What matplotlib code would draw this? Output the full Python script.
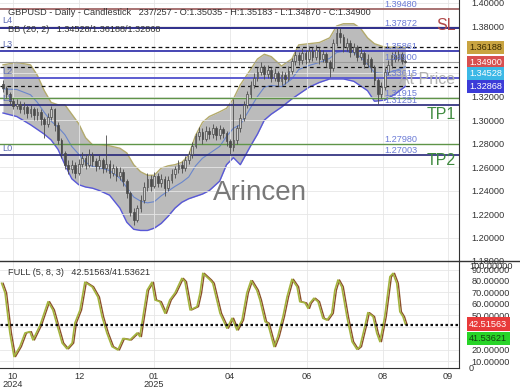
import numpy as np
import pandas as pd
import matplotlib
matplotlib.use("Agg")
import matplotlib.pyplot as plt
from matplotlib.lines import Line2D
from matplotlib.ticker import FormatStrFormatter
from matplotlib.transforms import blended_transform_factory

plt.rcParams['font.family'] = ['Liberation Sans', 'DejaVu Sans']

# candles (one bar every 2 sessions)
closes = [1.327, 1.322, 1.316, 1.312, 1.314, 1.309, 1.311, 1.306, 1.309, 1.304,
          1.307, 1.301, 1.297, 1.303, 1.309, 1.296, 1.283, 1.272, 1.262, 1.258,
          1.262, 1.255, 1.263, 1.268, 1.262, 1.270, 1.265, 1.261, 1.266, 1.259,
          1.263, 1.255, 1.259, 1.252, 1.256, 1.248, 1.238, 1.222, 1.215, 1.225,
          1.232, 1.243, 1.250, 1.244, 1.252, 1.246, 1.250, 1.242, 1.249, 1.254,
          1.258, 1.262, 1.259, 1.266, 1.271, 1.278, 1.286, 1.290, 1.284, 1.291,
          1.288, 1.293, 1.287, 1.292, 1.289, 1.282, 1.277, 1.283, 1.293, 1.302,
          1.313, 1.322, 1.330, 1.336, 1.341, 1.345, 1.339, 1.343, 1.336, 1.340,
          1.333, 1.338, 1.335, 1.342, 1.350, 1.355, 1.351, 1.357, 1.352, 1.359,
          1.354, 1.360, 1.352, 1.356, 1.349, 1.344, 1.366, 1.374, 1.371, 1.362,
          1.366, 1.358, 1.362, 1.354, 1.357, 1.348, 1.352, 1.345, 1.334, 1.322,
          1.328, 1.341, 1.347, 1.355, 1.352, 1.356, 1.35035, 1.34900]
highs = [1.334, 1.329, 1.324, 1.319, 1.318, 1.316, 1.315, 1.313, 1.313, 1.311,
         1.310, 1.309, 1.303, 1.306, 1.312, 1.310, 1.298, 1.285, 1.274, 1.266,
         1.266, 1.264, 1.267, 1.273, 1.271, 1.275, 1.273, 1.268, 1.270, 1.268,
         1.287, 1.266, 1.263, 1.261, 1.260, 1.258, 1.250, 1.240, 1.225, 1.228,
         1.236, 1.247, 1.255, 1.253, 1.256, 1.255, 1.254, 1.252, 1.252, 1.258,
         1.261, 1.266, 1.265, 1.269, 1.274, 1.281, 1.289, 1.294, 1.293, 1.295,
         1.294, 1.297, 1.295, 1.296, 1.294, 1.291, 1.284, 1.318, 1.296, 1.305,
         1.316, 1.325, 1.333, 1.340, 1.345, 1.349, 1.347, 1.347, 1.345, 1.344,
         1.342, 1.342, 1.341, 1.346, 1.353, 1.359, 1.358, 1.361, 1.360, 1.363,
         1.362, 1.364, 1.362, 1.360, 1.358, 1.351, 1.369, 1.379, 1.378, 1.373,
         1.370, 1.368, 1.366, 1.364, 1.361, 1.359, 1.356, 1.354, 1.347, 1.336,
         1.332, 1.344, 1.351, 1.358, 1.359, 1.360, 1.358, 1.35183]
lows = [1.324, 1.319, 1.313, 1.309, 1.309, 1.306, 1.305, 1.302, 1.303, 1.300,
        1.300, 1.296, 1.285, 1.294, 1.300, 1.291, 1.280, 1.268, 1.258, 1.254,
        1.255, 1.251, 1.253, 1.260, 1.258, 1.260, 1.261, 1.257, 1.258, 1.255,
        1.256, 1.251, 1.252, 1.248, 1.249, 1.244, 1.234, 1.218, 1.211, 1.213,
        1.222, 1.229, 1.240, 1.240, 1.242, 1.243, 1.243, 1.235, 1.240, 1.246,
        1.251, 1.255, 1.255, 1.257, 1.263, 1.268, 1.276, 1.283, 1.280, 1.282,
        1.284, 1.285, 1.283, 1.284, 1.285, 1.278, 1.271, 1.274, 1.280, 1.290,
        1.299, 1.310, 1.319, 1.327, 1.333, 1.338, 1.335, 1.336, 1.332, 1.333,
        1.329, 1.330, 1.331, 1.333, 1.339, 1.347, 1.347, 1.348, 1.348, 1.349,
        1.350, 1.351, 1.348, 1.349, 1.345, 1.337, 1.342, 1.363, 1.366, 1.358,
        1.359, 1.354, 1.355, 1.350, 1.351, 1.344, 1.345, 1.341, 1.330, 1.314,
        1.319, 1.326, 1.338, 1.344, 1.349, 1.350, 1.348, 1.34870]
first_open = 1.331

# Bollinger (20, 2) read at some bars
bb_pos = [0, 4, 8, 10, 12, 14, 16, 18, 20, 22, 24, 26, 28, 31, 34, 36, 38, 40, 42, 44,
          46, 48, 50, 52, 54, 56, 58, 60, 63, 65, 67, 69, 72, 74, 76, 78, 81, 84, 86, 89,
          92, 95, 97, 99, 102, 104, 106, 108, 111, 114, 117]
bb_upper = [1.347, 1.349, 1.347, 1.338, 1.325, 1.315, 1.313, 1.313, 1.305, 1.297,
            1.285, 1.279, 1.279, 1.278, 1.276, 1.272, 1.262, 1.256, 1.253, 1.253,
            1.259, 1.261, 1.262, 1.264, 1.270, 1.287, 1.298, 1.303, 1.307, 1.310,
            1.318, 1.330, 1.343, 1.352, 1.356, 1.354, 1.346, 1.352, 1.364, 1.365,
            1.366, 1.370, 1.380, 1.382, 1.382, 1.378, 1.370, 1.365, 1.362, 1.362,
            1.36188]
bb_lower = [1.306, 1.303, 1.296, 1.292, 1.288, 1.283, 1.275, 1.262, 1.250, 1.245,
            1.243, 1.242, 1.240, 1.236, 1.225, 1.213, 1.207, 1.206, 1.206, 1.208,
            1.212, 1.218, 1.225, 1.230, 1.233, 1.235, 1.237, 1.240, 1.248, 1.262,
            1.268, 1.262, 1.278, 1.288, 1.300, 1.305, 1.311, 1.318, 1.322, 1.328,
            1.332, 1.335, 1.335, 1.335, 1.333, 1.329, 1.325, 1.316, 1.317, 1.322,
            1.32868]

# Full stochastic (5, 8, 3) %K
stoch_pos = [-0.4, 0.6, 2.0, 3.2, 4.9, 6.4, 7.8, 8.7, 10.8, 13.1, 14.5, 17.2, 18.6, 20.1,
             20.9, 22.4, 23.8, 25.9, 27.6, 28.8, 30.2, 31.7, 33.4, 34.9, 36.9, 39.0, 39.8,
             41.9, 43.3, 44.2, 45.6, 47.1, 48.5, 50.0, 52.0, 52.9, 54.4, 56.4, 57.3, 58.1,
             60.2, 61.0, 63.1, 65.1, 66.6, 68.0, 69.5, 70.9, 72.1, 73.8, 74.7, 76.2, 77.0,
             78.8, 79.9, 81.4, 82.6, 84.0, 85.5, 86.3, 87.8, 88.7, 89.2, 90.4, 91.6, 93.0,
             94.2, 95.6, 96.5, 97.4, 98.5, 100.0, 101.5, 102.9, 103.8, 105.2, 106.1, 107.6,
             108.7, 109.6, 111.0, 112.5, 113.4, 114.5, 115.4, 116.3, 117.0]
stoch_k = [78, 69.6, 34.8, 14.2, 22.9, 34.8, 35.9, 28.7, 41.7, 62, 54.8, 26, 21, 26,
           43.5, 54.8, 79, 75, 66, 49, 34.8, 22.9, 20, 30, 28.7, 34.8, 31.6,
           72, 78.9, 63.5, 62, 51.9, 63.5, 69.6, 82.3, 79.4, 54.8, 57.7, 69.6, 86.7,
           80.9, 78, 51.9, 38.9, 47.6, 37.4, 46, 69.6, 80.3, 72, 63.5, 44.6, 43.2,
           22.9, 31.6, 49, 66.3, 81.5, 75, 62, 61, 56.2, 60.6, 65, 62, 47.6,
           46, 51.9, 72, 80.9, 75, 49, 27.2, 20.6, 22.9, 40.3, 52.5, 49,
           34.5, 27.2, 49, 83.7, 86.7, 78, 53.3, 49, 42.5]
stoch_last = [42.51563, 41.53621]

tick_pos = [2.9, 22.1, 43.9, 66.0, 88.4, 110.5, 129.4]
tick_labels = ['10\n2024', '12', '01\n2025', '04', '06', '08', '09']

# horizontal levels
levels = [1.39480, 1.37872, 1.35861, 1.34900, 1.33615, 1.31915, 1.31251, 1.27980, 1.27003]
level_colors = ['#9a5a5a', '#2e2e8a', '#4646b4', '#9a9a9a', '#5c5cd0', '#5f9448', '#262678', '#5f9448', '#262678']
level_widths = [1.2, 1.4, 1.4, 0.8, 1.4, 1.0, 1.2, 1.0, 1.2]
l_names = ['L4', 'L3', 'L2', 'L1', 'L0']
l_levels = [1.37872, 1.35861, 1.33615, 1.31251, 1.27003]
tag_names = ['SL', 'At Price', 'TP1', 'TP2']
tag_levels = [1.39480, 1.34900, 1.31915, 1.27980]
tag_colors = ['#b04848', '#b0b0b0', '#3f8a3f', '#3f8a3f']

o = np.array([first_open] + closes[:-1])
c = np.array(closes)
x = np.arange(len(closes))

fig = plt.figure(figsize=(5.2, 3.9), dpi=100)
ax = fig.add_axes([0, 1 - 261 / 390, 459 / 520, 261 / 390])
ax2 = fig.add_axes([0, 1 - 368 / 390, 459 / 520, 107 / 390], sharex=ax)

# bollinger band
up_b = np.array(bb_upper)
lo_b = np.array(bb_lower)
ax.fill_between(bb_pos, lo_b, up_b, color='#b0b0b0', alpha=0.85, lw=0, zorder=1)
ax.plot(bb_pos, up_b, color='#b3aa6c', lw=1.0, zorder=1.5)
ax.plot(bb_pos, lo_b, color='#5858d8', lw=1.0, zorder=1.5)
ax.plot(bb_pos, (up_b + lo_b) / 2, color='#6a86cc', lw=0.8, zorder=1.5)

# bb current values
for v in [1.36188, 1.34528, 1.32868]:
    ax.axhline(v, color='#111111', lw=0.9, ls=(0, (3, 2.5)), zorder=2)

for v, col, w in zip(levels, level_colors, level_widths):
    ax.axhline(v, color=col, lw=w, zorder=2)
    ax.annotate('%.5f' % v, (111, v), xytext=(0, 0), textcoords='offset points',
                fontsize=6.6, color='#6b7bd6', va='bottom', ha='left', zorder=5)

for name, v in zip(l_names, l_levels):
    ax.annotate(name, (-0.3, v), xytext=(0, 1.5), textcoords='offset points',
                fontsize=6.6, color='#5e6cb4', va='bottom', ha='left', zorder=5)

for name, v, col in zip(tag_names, tag_levels, tag_colors):
    ax.annotate(name, (131.6, v), xytext=(0, -7), textcoords='offset points',
                fontsize=11.5, color=col, va='top', ha='right', zorder=5)

# candles
ax.vlines(x, lows, highs, color='#4a4a4a', lw=0.6, zorder=3)
up = c >= o
ax.bar(x[up], (c - o)[up], bottom=o[up], width=0.5, color='#cfcfcf',
       edgecolor='#4a4a4a', lw=0.5, zorder=3)
ax.bar(x[~up], (o - c)[~up], bottom=c[~up], width=0.5, color='#4a4a4a',
       edgecolor='#4a4a4a', lw=0.5, zorder=3)

ax.set_xlim(-0.87, 132.6)
ax.set_ylim(1.1874, 1.4022)
ax.set_yticks(np.arange(1.18, 1.401, 0.02))
ax.yaxis.set_major_formatter(FormatStrFormatter('%.5f'))
ax.yaxis.tick_right()
ax.tick_params(axis='y', length=0, pad=9, labelsize=6.6, labelcolor='#333333')
ax.tick_params(axis='x', length=0, labelbottom=False)
ax.set_xticks(tick_pos)
ax.grid(True, color='#e6e6e6', lw=0.6, zorder=0)
for s in ['top', 'left', 'bottom']:
    ax.spines[s].set_visible(False)
ax.spines['right'].set_color('#333333')

# right side value tags
tr = blended_transform_factory(ax.transAxes, ax.transData)
tags = [(1.36188, 1.36188, '#c9a441', '#3a2a00'), (1.34900, 1.34900, '#d85050', 'white'),
        (1.34528, 1.3395, '#3cb8e6', 'white'), (1.32868, 1.32868, '#3c3cd8', 'white')]
for val, ypos, bg, fg in tags:
    ax.text(1.022, ypos, '%.5f' % val, transform=tr, fontsize=6.6, color=fg,
            va='center', ha='left', clip_on=False,
            bbox=dict(boxstyle='square,pad=0.25', fc=bg, ec='none'))

ax.text(0.017, 0.952, 'GBPUSD - Daily - Candlestick   237/257 - O:1.35035 - H:1.35183 - L:1.34870 - C:1.34900',
        transform=ax.transAxes, fontsize=6.6, color='#333333', va='center', zorder=6)
ax.text(0.017, 0.888, 'BB (20, 2)   1.34528/1.36188/1.32868',
        transform=ax.transAxes, fontsize=6.6, color='#333333', va='center', zorder=6)

# stochastic panel, %D lagging %K slightly
k = np.array(stoch_k)
d_pos = np.array(stoch_pos) + 0.45
ax2.plot(d_pos, k, color='#8c4f2c', lw=1.0)
ax2.plot(stoch_pos, k, color='#a3b43e', lw=1.2)
for v in stoch_last:
    ax2.axhline(v, color='#111111', lw=0.9, ls=(0, (2, 2)))
ax2.set_ylim(4.3, 97.4)
ax2.set_yticks(np.arange(10, 91, 10))
ax2.yaxis.set_major_formatter(FormatStrFormatter('%.5f'))
ax2.yaxis.tick_right()
ax2.tick_params(axis='y', length=0, pad=9, labelsize=6.6, labelcolor='#333333')
ax2.set_xticks(tick_pos)
ax2.set_xticklabels(tick_labels)
ax2.tick_params(axis='x', length=0, pad=3, labelsize=6.6, labelcolor='#333333')
for lbl in ax2.get_xticklabels():
    lbl.set_linespacing(0.9)
ax2.grid(True, color='#e6e6e6', lw=0.6, zorder=0)
ax2.spines['top'].set_visible(False)
ax2.spines['left'].set_visible(False)
ax2.spines['right'].set_color('#333333')
ax2.spines['bottom'].set_color('#333333')

tr2 = blended_transform_factory(ax2.transAxes, ax2.transData)
ax2.text(1.022, 92.5, '100.00000', transform=tr2, fontsize=6.6, color='#333333',
         va='center', ha='left', clip_on=False)
ax2.text(1.022, 4.0, '0', transform=tr2, fontsize=6.6, color='#333333',
         va='center', ha='left', clip_on=False)
ax2.text(1.022, stoch_last[0], '%.5f' % stoch_last[0], transform=tr2, fontsize=6.6,
         color='white', va='center', ha='left', clip_on=False,
         bbox=dict(boxstyle='square,pad=0.25', fc='#e83a3a', ec='none'))
ax2.text(1.022, 30.0, '%.5f' % stoch_last[1], transform=tr2, fontsize=6.6,
         color='#124012', va='center', ha='left', clip_on=False,
         bbox=dict(boxstyle='square,pad=0.25', fc='#28d428', ec='none'))
ax2.text(0.017, 0.89, 'FULL (5, 8, 3)   42.51563/41.53621',
         transform=ax2.transAxes, fontsize=6.6, color='#333333', va='center')

# panel separator
fig.add_artist(Line2D([0, 1], [1 - 261 / 390, 1 - 261 / 390], transform=fig.transFigure,
                      color='#333333', lw=1.0))

fig.text(260 / 520, 1 - 193 / 390, 'Arincen', fontsize=20, color='#6a6a6a',
         ha='center', va='center', alpha=0.9)

fig.savefig('out.png', dpi=100)
